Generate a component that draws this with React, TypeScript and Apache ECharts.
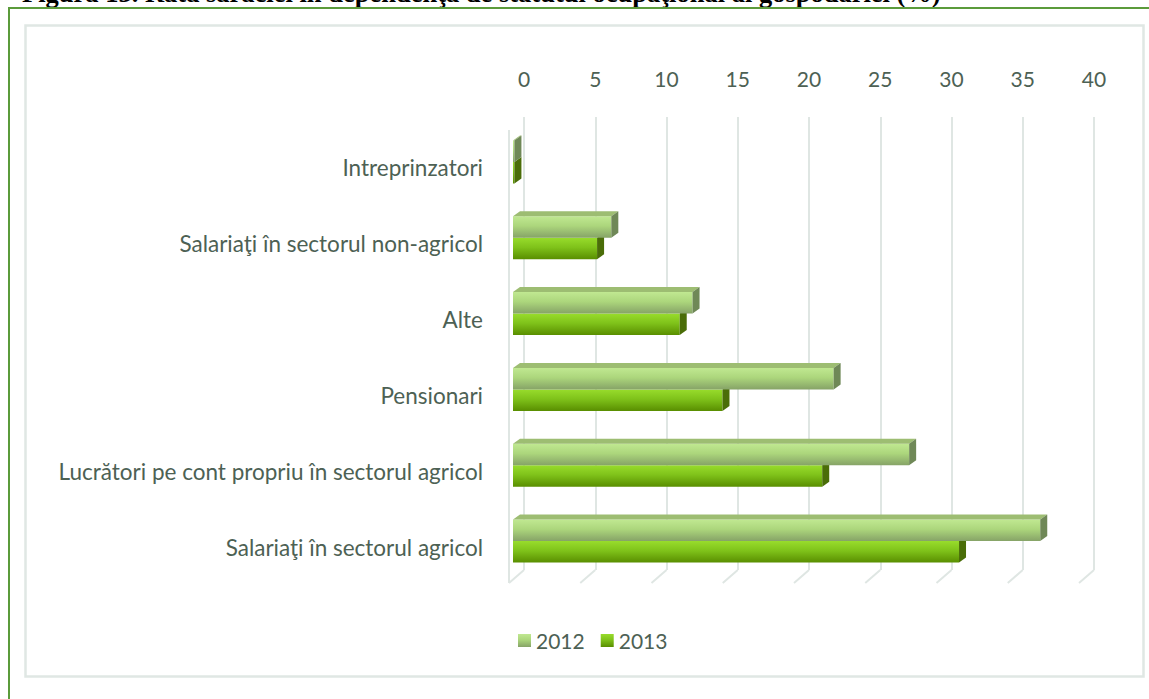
import React, { useEffect, useRef } from "react";
import * as echarts from "echarts";

const titleText =
  "Figura 13. Rata sărăciei în dependenţa de statutul ocupaţional al gospodăriei (%)";
const categories = [
  "Intreprinzatori",
  "Salariaţi în sectorul non-agricol",
  "Alte",
  "Pensionari",
  "Lucrători pe cont propriu în sectorul agricol",
  "Salariaţi în sectorul agricol",
];
const values2012 = [0.1, 6.9, 12.6, 22.5, 27.8, 37.0];
const values2013 = [0.1, 5.9, 11.7, 14.7, 21.7, 31.3];
const seriesNames = ["2012", "2013"];
const xTicks = [0, 5, 10, 15, 20, 25, 30, 35, 40];

const TEXT = "#4d6154";
const GRID = "#dfe6e3";
const FONT = "Lato";

const front = [
  () =>
    new echarts.graphic.LinearGradient(0, 0, 0, 1, [
      { offset: 0, color: "#c0e891" },
      { offset: 0.45, color: "#acd67c" },
      { offset: 1, color: "#86a367" },
    ]),
  () =>
    new echarts.graphic.LinearGradient(0, 0, 0, 1, [
      { offset: 0, color: "#98dc2c" },
      { offset: 0.45, color: "#7fc21a" },
      { offset: 1, color: "#598e00" },
    ]),
];
const topFace = ["#9dbd72", "#6fa51c"];
const endFace = ["#6f8857", "#4a6d08"];

function makeBarRender(s: number) {
  return (params: any, api: any) => {
    const i = api.value(0);
    const v = api.value(1);
    const base = api.coord([0, i]);
    const end = api.coord([v, i]);
    const h = 21.5;
    const top = s === 0 ? base[1] - h : base[1];
    const bottom = top + h;
    const x0 = base[0];
    const x1 = end[0];
    const dx = 7;
    const dy = -5;
    const children: any[] = [];
    children.push({
      type: "rect",
      shape: { x: x0, y: top, width: Math.max(x1 - x0, 0.5), height: h },
      style: { fill: front[s]() },
    });
    if (s === 0) {
      children.push({
        type: "polygon",
        shape: {
          points: [
            [x0, top],
            [x0 + dx, top + dy],
            [x1 + dx, top + dy],
            [x1, top],
          ],
        },
        style: { fill: topFace[s] },
      });
    }
    children.push({
      type: "polygon",
      shape: {
        points: [
          [x1, top],
          [x1 + dx, top + dy],
          [x1 + dx, bottom + dy],
          [x1, bottom],
        ],
      },
      style: { fill: endFace[s] },
    });
    return { type: "group", children };
  };
}

function floorRender(params: any, api: any) {
  const v = api.value(0);
  const p = api.coord([v, 0]);
  const cs = params.coordSys;
  const children: any[] = [
    {
      type: "line",
      shape: { x1: p[0], y1: p[1], x2: p[0] - 15, y2: p[1] + 13 },
      style: { stroke: GRID, lineWidth: 2 },
    },
  ];
  if (v === 0) {
    children.push({
      type: "line",
      shape: { x1: p[0] - 15, y1: p[1] + 13, x2: p[0] - 15, y2: cs.y + 13 },
      style: { stroke: GRID, lineWidth: 2 },
    });
  }
  return { type: "group", children };
}

export default function App() {
  const ref = useRef<HTMLDivElement>(null);
  useEffect(() => {
    if (!ref.current) return;
    const chart = echarts.init(ref.current, undefined, { renderer: "svg" });
    const option: any = {
      animation: false,
      backgroundColor: "#ffffff",
      textStyle: { fontFamily: FONT },
      graphic: [
        {
          type: "text",
          x: 22,
          y: 6,
          style: {
            text: titleText,
            fontFamily: "Liberation Serif",
            fontWeight: "bold",
            fontSize: 26.5,
            fill: "#000000",
            textVerticalAlign: "bottom",
          },
        },
        {
          type: "rect",
          shape: { x: 9, y: 8, width: 1300, height: 900 },
          style: { fill: "none", stroke: "#5b9b3b", lineWidth: 2 },
        },
        {
          type: "rect",
          shape: { x: 25.5, y: 25.5, width: 1118, height: 651 },
          style: { fill: "none", stroke: "#e0e7e4", lineWidth: 2.5 },
        },
      ],
      grid: [
        { left: 524, top: 117, width: 570, height: 453 },
        { left: 513, top: 124, width: 570, height: 455 },
        { left: 513, top: 130, width: 570, height: 455 },
      ],
      xAxis: [
        {
          gridIndex: 0,
          type: "value",
          min: 0,
          max: 40,
          interval: 5,
          position: "top",
          axisLine: { show: false },
          axisTick: { show: false },
          splitLine: { show: true, lineStyle: { color: GRID, width: 2 } },
          axisLabel: {
            color: TEXT,
            fontSize: 21,
            fontFamily: FONT,
            margin: 28,
            formatter: (v: number) => (xTicks.includes(v) ? String(v) : ""),
          },
        },
        { gridIndex: 1, type: "value", min: 0, max: 40, show: false },
        { gridIndex: 2, type: "value", min: 0, max: 40, show: false },
      ],
      yAxis: [
        { gridIndex: 0, type: "value", min: 0, max: 1, show: false },
        {
          gridIndex: 1,
          type: "category",
          inverse: true,
          data: categories,
          axisLine: { show: false },
          axisTick: { show: false },
          splitLine: { show: false },
          axisLabel: { show: false },
        },
        {
          gridIndex: 2,
          type: "category",
          inverse: true,
          data: categories,
          axisLine: { show: false },
          axisTick: { show: false },
          splitLine: { show: false },
          axisLabel: {
            color: TEXT,
            fontSize: 22.5,
            fontFamily: FONT,
            margin: 30,
          },
        },
      ],
      legend: {
        data: seriesNames,
        left: 513,
        top: 625,
        icon: "rect",
        itemWidth: 13,
        itemHeight: 13,
        itemGap: 16,
        textStyle: { color: TEXT, fontSize: 21, fontFamily: FONT },
      },
      series: [
        {
          type: "custom",
          name: "floor",
          xAxisIndex: 0,
          yAxisIndex: 0,
          silent: true,
          renderItem: floorRender,
          data: xTicks.map((v) => [v, 0]),
          encode: { x: 0, y: 1 },
          z: 1,
        },
        {
          type: "custom",
          name: seriesNames[1],
          xAxisIndex: 1,
          yAxisIndex: 1,
          renderItem: makeBarRender(1),
          itemStyle: { color: front[1]() },
          data: values2013.map((v, i) => [i, v]),
          encode: { x: 1, y: 0 },
          z: 2,
        },
        {
          type: "custom",
          name: seriesNames[0],
          xAxisIndex: 1,
          yAxisIndex: 1,
          renderItem: makeBarRender(0),
          itemStyle: { color: front[0]() },
          data: values2012.map((v, i) => [i, v]),
          encode: { x: 1, y: 0 },
          z: 3,
        },
      ],
    };
    chart.setOption(option);
    return () => chart.dispose();
  }, []);
  return (
    <div
      ref={ref}
      style={{ position: "absolute", left: 0, top: 0, width: 1149, height: 699 }}
    />
  );
}
